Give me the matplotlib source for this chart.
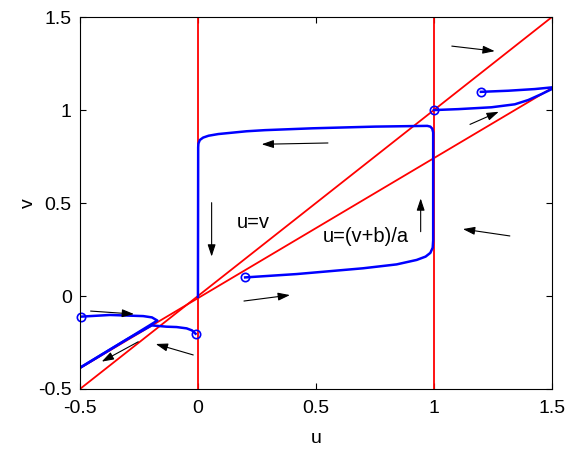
import matplotlib
matplotlib.use('Agg')
import matplotlib.pyplot as plt

plt.rcParams['font.family'] = ['Liberation Sans', 'DejaVu Sans']
plt.rcParams['font.size'] = 14

# nullclines
u_lim = [-0.5, 1.5]
diag_v = [-0.5, 1.5]              # u = v
slow_v = [-0.388, 1.118]          # u = (v+b)/a
vert_u = [0, 1]                   # u = 0, u = 1

# trajectories
loop_u = [0.2, 0.418, 0.699, 0.842, 0.927, 0.965, 0.985, 0.995, 0.997, 0.997, 0.993, 0.985, 0.972,
          0.75, 0.487, 0.284, 0.206, 0.086, 0.045, 0.022, 0.008, 0.002, 0.001, 0.0]
loop_v = [0.1, 0.118, 0.149, 0.170, 0.194, 0.212, 0.232, 0.26, 0.3, 0.88, 0.900, 0.911, 0.915,
          0.911, 0.902, 0.892, 0.886, 0.871, 0.862, 0.852, 0.839, 0.82, 0.80, -0.005]

top1_u = [1.0, 1.103, 1.244, 1.343, 1.40, 1.456, 1.5]
top1_v = [1.0, 1.005, 1.015, 1.031, 1.054, 1.086, 1.113]
top2_u = [1.199, 1.315, 1.428, 1.5]
top2_v = [1.098, 1.104, 1.113, 1.122]

left1_u = [-0.497, -0.373, -0.232, -0.195, -0.172, -0.3, -0.5]
left1_v = [-0.111, -0.102, -0.108, -0.115, -0.132, -0.232, -0.386]
left2_u = [-0.01, -0.025, -0.048, -0.09, -0.133, -0.196, -0.3, -0.5]
left2_v = [-0.203, -0.185, -0.174, -0.167, -0.165, -0.158, -0.232, -0.386]

start_u = [0.2, 1.0, 1.199, -0.497, -0.01]
start_v = [0.1, 1.0, 1.098, -0.111, -0.203]

# flow arrows: (u0, v0, u1, v1)
arrows = [
    (1.076, 1.344, 1.258, 1.317),
    (1.153, 0.923, 1.275, 0.991),
    (1.322, 0.323, 1.123, 0.360),
    (0.551, 0.823, 0.27, 0.816),
    (0.058, 0.502, 0.058, 0.212),
    (0.944, 0.346, 0.944, 0.525),
    (0.195, -0.027, 0.39, 0.005),
    (-0.455, -0.081, -0.271, -0.097),
    (-0.02, -0.317, -0.179, -0.258),
    (-0.253, -0.246, -0.408, -0.353),
]

fig = plt.figure(figsize=(5.66, 4.5), dpi=100)
ax = fig.add_axes([0.1413, 0.1356, 0.8337, 0.8264])

ax.plot(u_lim, diag_v, color='red', lw=1.3)
ax.plot(u_lim, slow_v, color='red', lw=1.3)
for x in vert_u:
    ax.axvline(x, color='red', lw=1.3)

for uu, vv in [(loop_u, loop_v), (top1_u, top1_v), (top2_u, top2_v),
               (left1_u, left1_v), (left2_u, left2_v)]:
    ax.plot(uu, vv, color='blue', lw=1.8, solid_joinstyle='round')
ax.plot(start_u, start_v, 'o', mfc='none', mec='blue', ms=6, mew=1.2, clip_on=False)

for u0, v0, u1, v1 in arrows:
    ax.annotate('', xy=(u1, v1), xytext=(u0, v0),
                arrowprops=dict(arrowstyle='-|>,head_length=0.6,head_width=0.2',
                                color='black', lw=0.8, shrinkA=0, shrinkB=0,
                                mutation_scale=12))

ax.text(0.164, 0.394, 'u=v', va='center', ha='left', fontsize=14.5)
ax.text(0.531, 0.319, 'u=(v+b)/a', va='center', ha='left', fontsize=14.5)

ax.set_xlim(-0.5, 1.5)
ax.set_ylim(-0.5, 1.5)
ax.set_xticks([-0.5, 0, 0.5, 1, 1.5])
ax.set_xticklabels(['-0.5', '0', '0.5', '1', '1.5'])
ax.set_yticks([-0.5, 0, 0.5, 1, 1.5])
ax.set_yticklabels(['-0.5', '0', '0.5', '1', '1.5'])
ax.tick_params(direction='in', length=4, width=0.8, top=True, right=True)
ax.tick_params(axis='x', pad=8)
ax.tick_params(axis='y', pad=6)
for s in ax.spines.values():
    s.set_linewidth(0.8)
ax.set_xlabel('u', labelpad=9)
ax.set_ylabel('v', labelpad=1)

fig.savefig('out.png', dpi=100)
